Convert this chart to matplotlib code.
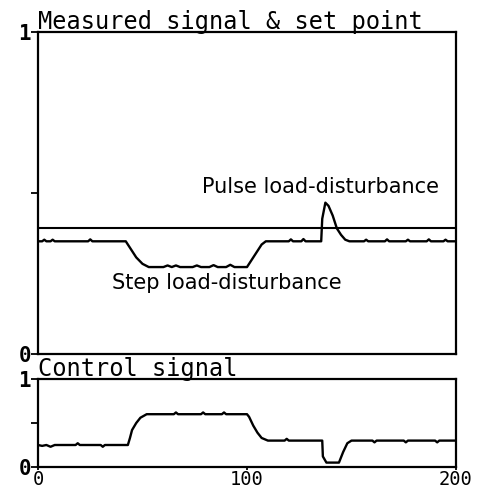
import matplotlib
matplotlib.use("Agg")
import matplotlib.pyplot as plt

# ---- data ----
setpoint_t = [0, 200]
setpoint_y = [0.39, 0.39]

meas_t = [0, 2, 3, 4, 6, 7, 8, 24, 25, 26, 42, 43, 45, 47, 50, 53, 56, 60, 62, 64, 66, 68, 74, 76, 78,
          82, 84, 86, 90, 92, 94, 100, 101, 103, 105, 107, 109, 120, 121, 122, 126, 127, 128,
          135.5, 136, 137.5, 139, 141, 143, 145, 147, 149, 156, 157, 158, 166, 167, 168, 176, 177, 178,
          186, 187, 188, 194, 195, 196, 200]
meas_y = [0.35, 0.35, 0.355, 0.35, 0.35, 0.355, 0.35, 0.35, 0.356, 0.35, 0.35, 0.34, 0.32, 0.30, 0.28, 0.27, 0.27, 0.27, 0.275, 0.27, 0.275, 0.27, 0.27, 0.275, 0.27,
          0.27, 0.276, 0.27, 0.27, 0.277, 0.27, 0.27, 0.28, 0.30, 0.32, 0.34, 0.35, 0.35, 0.356, 0.35, 0.35, 0.357, 0.35,
          0.35, 0.42, 0.47, 0.46, 0.43, 0.39, 0.37, 0.355, 0.35, 0.35, 0.355, 0.35, 0.35, 0.356, 0.35, 0.35, 0.355, 0.35,
          0.35, 0.356, 0.35, 0.35, 0.355, 0.35, 0.35]

ctrl_t = [0, 2, 4, 6, 8, 10, 18, 19, 20, 30, 31, 32, 43, 44, 45, 47, 49, 52, 65, 66, 67, 78, 79, 80, 88, 89, 90,
          100, 101, 103, 105, 107, 110, 118, 119, 120, 136, 136.3, 138, 144, 146, 148, 150, 160, 161, 162,
          175, 176, 177, 190, 191, 192, 200]
ctrl_y = [0.25, 0.24, 0.25, 0.23, 0.25, 0.25, 0.25, 0.27, 0.25, 0.25, 0.23, 0.25, 0.25, 0.33, 0.42, 0.50, 0.56, 0.60, 0.60, 0.62, 0.60, 0.60, 0.62, 0.60, 0.60, 0.62, 0.60,
          0.60, 0.57, 0.47, 0.39, 0.33, 0.30, 0.30, 0.32, 0.30, 0.30, 0.12, 0.05, 0.05, 0.17, 0.27, 0.30, 0.30, 0.28, 0.30,
          0.30, 0.28, 0.30, 0.30, 0.28, 0.30, 0.30]

x_ticks = [0, 100, 200]
x_tick_labels = ["0", "100", "200"]
y_ticks = [0, 0.5, 1]
y_tick_labels = ["0", "", "1"]

top_title = "Measured signal & set point"
bottom_title = "Control signal"
pulse_label = "Pulse load-disturbance"
step_label = "Step load-disturbance"

# ---- figure ----
W, H = 479, 491
fig = plt.figure(figsize=(W / 100, H / 100), dpi=100)
mono = "DejaVu Sans Mono"

ax1 = fig.add_axes([38 / W, 1 - 354 / H, 418 / W, 322 / H])
ax2 = fig.add_axes([38 / W, 1 - 467 / H, 418 / W, 88 / H])

for ax in (ax1, ax2):
    ax.set_xlim(0, 200)
    ax.set_ylim(0, 1)
    for s in ax.spines.values():
        s.set_linewidth(1.6)
    ax.set_yticks(y_ticks)
    ax.set_yticklabels(y_tick_labels, fontfamily=mono, fontsize=15, fontweight="bold")
    ax.tick_params(axis="y", direction="out", length=5, width=1.3, pad=0)
    ax.tick_params(axis="x", direction="out", length=2, width=1.3, pad=0)

ax1.set_xticks(x_ticks)
ax1.set_xticklabels([])
ax1.tick_params(axis="x", length=0)
ax2.set_xticks(x_ticks)
ax2.set_xticklabels(x_tick_labels, fontfamily=mono, fontsize=13.5)

ax1.plot(setpoint_t, setpoint_y, color="black", lw=1.5)
ax1.plot(meas_t, meas_y, color="black", lw=1.7)
ax2.plot(ctrl_t, ctrl_y, color="black", lw=1.7)

ax1.annotate(top_title, xy=(0, 1), xycoords="axes fraction", xytext=(0, 3),
             textcoords="offset pixels", fontfamily=mono, fontsize=17,
             ha="left", va="baseline")
ax2.annotate(bottom_title, xy=(0, 1), xycoords="axes fraction", xytext=(0, 3),
             textcoords="offset pixels", fontfamily=mono, fontsize=17,
             ha="left", va="baseline")

ax1.text(192, 0.519, pulse_label, fontfamily="DejaVu Sans", fontsize=15, ha="right", va="center")
ax1.text(35.5, 0.22, step_label, fontfamily="DejaVu Sans", fontsize=15, ha="left", va="center")

fig.savefig("out.png", dpi=100)
